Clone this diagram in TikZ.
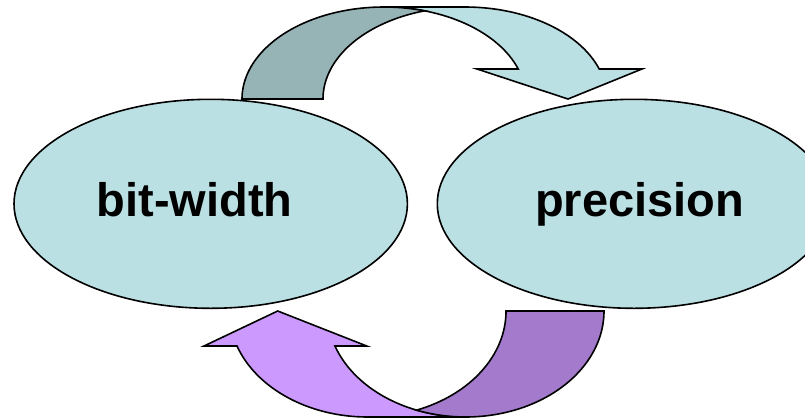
\documentclass[tikz,border=0pt]{standalone}
\usepackage{fontspec}
\setmainfont{Liberation Sans}
\usetikzlibrary{shapes.geometric}
\definecolor{cyanfill}{RGB}{187,224,227}
\definecolor{cyanback}{RGB}{150,179,182}
\definecolor{violetfill}{RGB}{204,153,255}
\definecolor{violetback}{RGB}{163,122,204}
\begin{document}
\begin{tikzpicture}[x=1pt,y=-1pt,
  outline/.style={draw=black, line width=1.6pt, line join=miter},
  bubble/.style={ellipse, outline, fill=cyanfill, inner sep=0pt,
                 minimum width=393.4pt, minimum height=209pt},
  wordtext/.style={font=\bfseries\fontsize{47}{56}\selectfont,
                   inner sep=0pt, anchor=base}]
\useasboundingbox (0,0) rectangle (805,418);
\clip (0,0) rectangle (805,418);

% the two quantities
\node[bubble] (bitw) at (210.7,203.8) {};
\node[bubble] (prec) at (634,203.8) {};
\node[wordtext] (bitwtext) at (194.5,216) {bit-width};
\node[wordtext] (prectext) at (639.5,216) {precision};

% upper curved arrow: front band with head, then the shaded back band
\filldraw[outline, fill=cyanfill]
  (384,7) arc[start angle=270, end angle=340.97, x radius=142, y radius=92]
  -- (477,69) -- (568,99) -- (642,69) -- (599.2,69)
  arc[start angle=340.97, end angle=270, x radius=142, y radius=92]
  -- cycle;
\filldraw[outline, fill=cyanback]
  (242,99) arc[start angle=180, end angle=286.57, x radius=142, y radius=92]
  arc[start angle=253.43, end angle=180, x radius=142, y radius=92]
  -- cycle;

% lower curved arrow: front band with head, then the shaded back band
\filldraw[outline, fill=violetfill]
  (465.6,417) arc[start angle=90, end angle=160.72, x radius=138.4, y radius=106]
  -- (366.7,346) -- (277.7,311) -- (204,346) -- (237,346)
  arc[start angle=160.72, end angle=90, x radius=138.4, y radius=106]
  -- cycle;
\filldraw[outline, fill=violetback]
  (604,311) arc[start angle=0, end angle=110.73, x radius=138.4, y radius=106]
  arc[start angle=69.27, end angle=0, x radius=138.4, y radius=106]
  -- cycle;
\end{tikzpicture}
\end{document}
